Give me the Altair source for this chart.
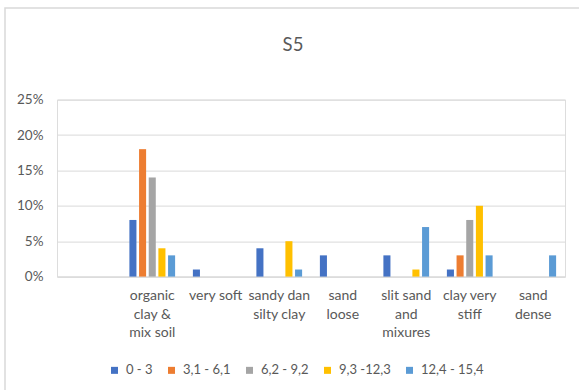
import altair as alt
import pandas as pd

# Soil classes along the x axis (first slot is an unlabeled, empty class)
categories = [
    "",
    "organic\nclay &\nmix soil",
    "very soft",
    "sandy dan\nsilty clay",
    "sand\nloose",
    "slit sand\nand\nmixures",
    "clay very\nstiff",
    "sand\ndense",
]

# Depth ranges (series)
ranges = ["0 - 3", "3,1 - 6,1", "6,2 - 9,2", "9,3 -12,3", "12,4 - 15,4"]
colors = ["#4472C4", "#ED7D31", "#A5A5A5", "#FFC000", "#5B9BD5"]

# Share per class for each depth range
v_0_3 = [0.00, 0.08, 0.01, 0.04, 0.03, 0.03, 0.01, 0.00]
v_31_61 = [0.00, 0.18, 0.00, 0.00, 0.00, 0.00, 0.03, 0.00]
v_62_92 = [0.00, 0.14, 0.00, 0.00, 0.00, 0.00, 0.08, 0.00]
v_93_123 = [0.00, 0.04, 0.00, 0.05, 0.00, 0.01, 0.10, 0.00]
v_124_154 = [0.00, 0.03, 0.00, 0.01, 0.00, 0.07, 0.03, 0.03]

series = [v_0_3, v_31_61, v_62_92, v_93_123, v_124_154]

chart_title = "S5"

rows = []
for name, vals in zip(ranges, series):
    for cat, v in zip(categories, vals):
        rows.append({"kelas": cat, "kedalaman": name, "nilai": v})
df = pd.DataFrame(rows)

FONT = "Lato"
TXT = "#595959"
GRID = "#d9d9d9"

PLOT_W = 508
PLOT_H = 177
PAD_L = 57
PAD_T = 99.6

bars = alt.Chart(df).mark_bar().encode(
    x=alt.X(
        "kelas:N",
        sort=categories,
        scale=alt.Scale(paddingInner=0.28, paddingOuter=0.14),
        axis=alt.Axis(
            title=None,
            labelAngle=0,
            labelExpr="split(datum.label, '\\n')",
            labelFont=FONT,
            labelFontSize=14,
            labelColor=TXT,
            labelLineHeight=18.5,
            labelBaseline="top",
            labelPadding=12,
            ticks=False,
            tickSize=0,
            domainColor=GRID,
            labelLimit=80,
        ),
    ),
    xOffset=alt.XOffset(
        "kedalaman:N",
        sort=ranges,
        scale=alt.Scale(paddingInner=0.27, paddingOuter=0),
    ),
    y=alt.Y(
        "nilai:Q",
        scale=alt.Scale(domain=[0, 0.25], nice=False),
        axis=alt.Axis(
            title=None,
            format=".0%",
            values=[0, 0.05, 0.10, 0.15, 0.20, 0.25],
            labelFont=FONT,
            labelFontSize=13.5,
            labelColor=TXT,
            labelPadding=14,
            ticks=False,
            tickSize=0,
            domain=False,
            gridColor=GRID,
            gridWidth=1,
        ),
    ),
    color=alt.Color(
        "kedalaman:N",
        sort=ranges,
        scale=alt.Scale(domain=ranges, range=colors),
        legend=alt.Legend(
            title=None,
            orient="none",
            direction="horizontal",
            legendX=51,
            legendY=264,
            symbolType="square",
            symbolSize=49,
            symbolStrokeWidth=0,
            labelFont=FONT,
            labelFontSize=13,
            labelColor=TXT,
            labelOffset=5,
            columnPadding=12,
            padding=0,
        ),
    ),
)

one_row = pd.DataFrame({"t": [chart_title]})

# Outer chart frame
frame = alt.Chart(one_row).mark_rect(
    fill=None, stroke=GRID, strokeWidth=1.5
).encode(
    x=alt.value(5 - PAD_L),
    x2=alt.value(579 - PAD_L + 20),
    y=alt.value(8 - PAD_T),
    y2=alt.value(390 - PAD_T + 20),
)

# Chart heading
heading = alt.Chart(one_row).mark_text(
    font=FONT, fontSize=18.5, color=TXT, baseline="middle", align="center"
).encode(
    text="t:N",
    x=alt.value(293 - PAD_L),
    y=alt.value(45 - PAD_T),
)

chart = alt.layer(frame, bars, heading).properties(
    width=PLOT_W,
    height=PLOT_H,
    padding={"left": PAD_L, "top": PAD_T, "right": 579 - PAD_L - PLOT_W, "bottom": 390 - PAD_T - PLOT_H},
    autosize=alt.AutoSizeParams(type="none"),
).configure_view(stroke=None).configure(background="white")

chart.save("out.html", embed_options={"renderer": "svg", "actions": False})
